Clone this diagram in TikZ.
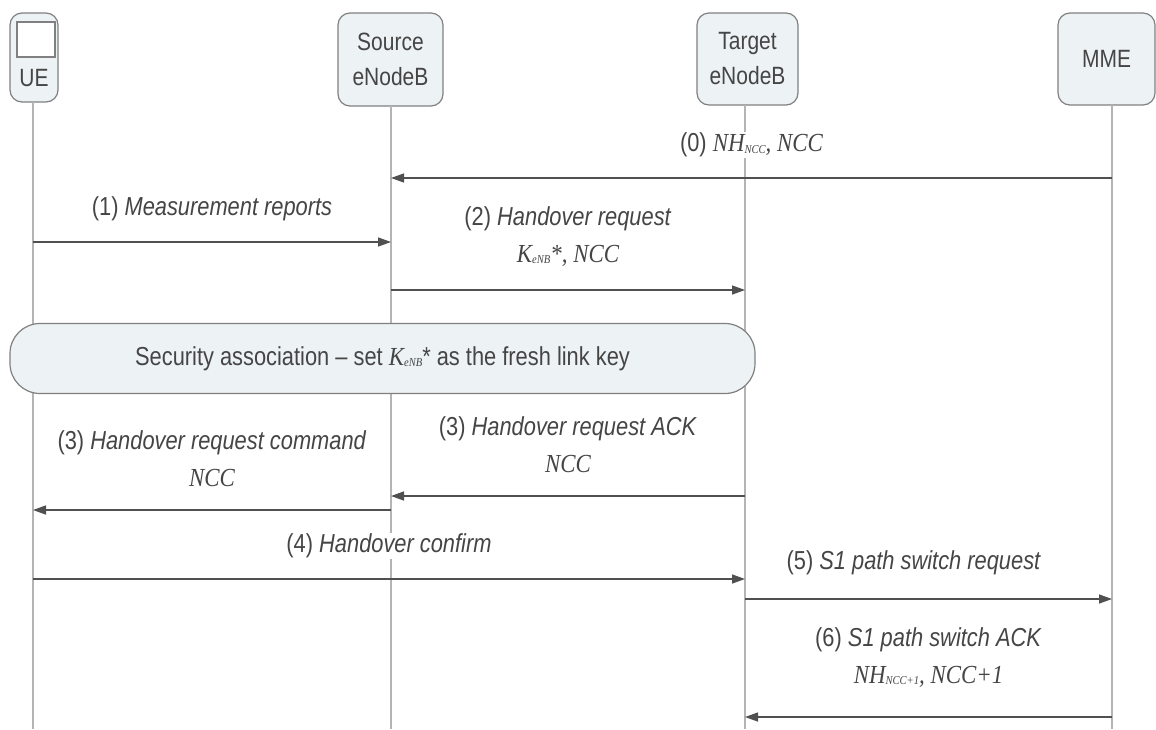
\documentclass[tikz,border=0pt]{standalone}
\usepackage{fontspec}
\setmainfont{Liberation Sans}[FakeStretch=0.84]
\newfontfamily\tms{Liberation Serif}[FakeStretch=0.88]
\usetikzlibrary{arrows.meta}
\definecolor{txt}{HTML}{454545}
\definecolor{boxline}{HTML}{808080}
\definecolor{boxfill}{HTML}{EDF2F4}
\definecolor{lifecol}{HTML}{B4B4B4}
\definecolor{arrcol}{HTML}{505050}
\newcommand\sbs[1]{\raisebox{-1.5pt}{\fontsize{12}{12}\selectfont #1}}
\newcommand\mth[1]{{\tms\itshape #1}}
\begin{document}
\begin{tikzpicture}[x=1pt,y=-1pt,
  actor/.style={draw=boxline, fill=boxfill, rounded corners=12pt, line width=1.2pt, text=txt,
    font=\fontsize{25}{35}\selectfont, align=center, inner sep=0pt},
  life/.style={draw=lifecol, line width=1.5pt},
  msg/.style={draw=arrcol, line width=1.4pt, -{Triangle[length=13pt,width=9pt]}},
  lbl/.style={fill=white, text=txt, font=\fontsize{26}{37}\selectfont, align=center, inner sep=1pt}]
\useasboundingbox (0,0) rectangle (1156,729);
% actors
\node[actor, minimum width=48pt, minimum height=89pt] (ue) at (34,57.5) {};
\node[draw=boxline, fill=white, line width=1.2pt, minimum width=38pt, minimum height=35pt, inner sep=0pt] (uescr) at (36,39.5) {};
\node[text=txt, font=\fontsize{25}{35}\selectfont, inner sep=0pt] (uetxt) at (34,78) {UE};
\node[actor, minimum width=105pt, minimum height=93pt] (src) at (390.5,59.5) {Source\\eNodeB};
\node[actor, minimum width=101pt, minimum height=92pt] (tgt) at (747.5,59) {Target\\eNodeB};
\node[actor, minimum width=97pt, minimum height=92pt] (mme) at (1106.5,59) {MME};
% lifeline anchors
\coordinate (ueL) at (33,102);
\coordinate (srcL) at (391,106);
\coordinate (tgtL) at (745,105);
\coordinate (mmeL) at (1112,105);
\coordinate (bot) at (0,729);
\draw[life] (ueL) -- (ueL |- bot);
\draw[life] (srcL) -- (srcL |- bot);
\draw[life] (tgtL) -- (tgtL |- bot);
\draw[life] (mmeL) -- (mmeL |- bot);
% security association
\node[draw=boxline, fill=boxfill, rounded corners=30pt, line width=1.2pt, minimum width=745pt, minimum height=70pt,
  text=txt, font=\fontsize{26}{30}\selectfont, inner sep=0pt] (sec) at (382.5,358.5)
  {Security association -- set \mth{K\sbs{eNB}}* as the fresh link key};
% message rows
\coordinate (m0) at (0,178);
\coordinate (m1) at (0,242);
\coordinate (m2) at (0,290);
\coordinate (m3a) at (0,496);
\coordinate (m3b) at (0,510);
\coordinate (m4) at (0,579);
\coordinate (m5) at (0,599);
\coordinate (m6) at (0,717);
\draw[msg] (mmeL |- m0) -- node[lbl, midway, above=19pt] {(0) \mth{NH\sbs{NCC}, NCC}} (srcL |- m0);
\draw[msg] (ueL |- m1) -- node[lbl, midway, above=19pt] {(1) \textit{Measurement reports}} (srcL |- m1);
\draw[msg] (srcL |- m2) -- node[lbl, midway, above=22pt] {(2) \textit{Handover request}\\\mth{K\sbs{eNB}*, NCC}} (tgtL |- m2);
\draw[msg] (tgtL |- m3a) -- node[lbl, midway, above=22pt] {(3) \textit{Handover request ACK}\\\mth{NCC}} (srcL |- m3a);
\draw[msg] (srcL |- m3b) -- node[lbl, midway, above=22pt] {(3) \textit{Handover request command}\\\mth{NCC}} (ueL |- m3b);
\draw[msg] (ueL |- m4) -- node[lbl, midway, above=19pt] {(4) \textit{Handover confirm}} (tgtL |- m4);
\draw[msg] (tgtL |- m5) -- node[lbl, pos=0.46, above=22pt] {(5) \textit{S1 path switch request}} (mmeL |- m5);
\draw[msg] (mmeL |- m6) -- node[lbl, midway, above=28pt] {(6) \textit{S1 path switch ACK}\\\mth{NH\sbs{NCC+1}, NCC+1}} (tgtL |- m6);
\end{tikzpicture}
\end{document}
